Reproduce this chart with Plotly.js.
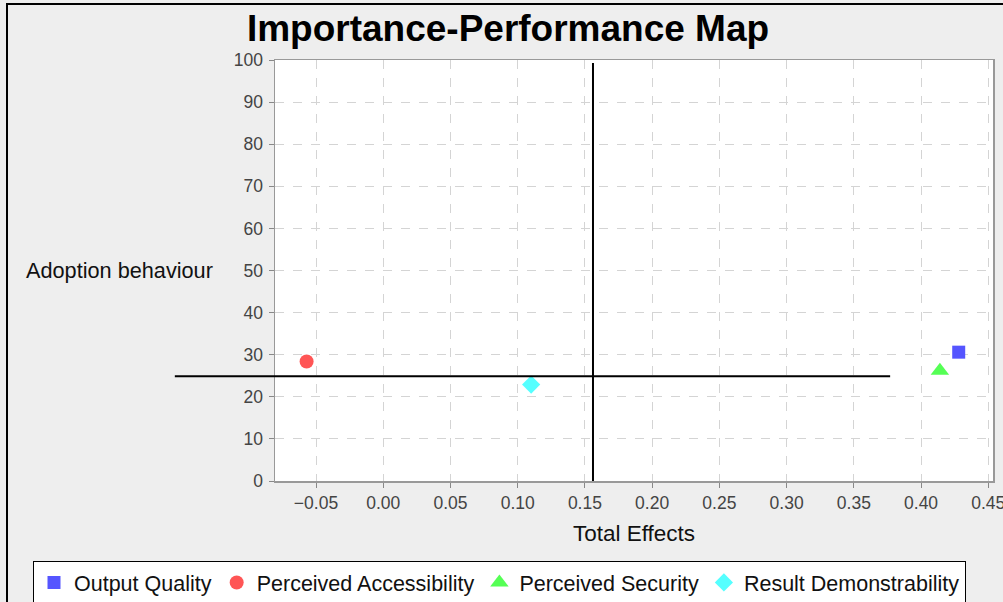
<!DOCTYPE html>
<html>
<head>
<meta charset="utf-8">
<script src="https://cdn.plot.ly/plotly-3.0.1.min.js"></script>
<style>
  html, body { margin: 0; padding: 0; background: #eeeeee; }
  #wrap { position: relative; width: 1003px; height: 602px; overflow: hidden; background: #eeeeee; }
  #chart { position: absolute; left: 0; top: 0; width: 1003px; height: 602px; }
  #bl { position: absolute; left: 6px; top: 3px; width: 2px; height: 599px; background: #000; }
  #bt { position: absolute; left: 6px; top: 3px; width: 997px; height: 2px; background: #000; }
</style>
</head>
<body>
<div id="wrap"><div id="chart"></div><div id="bl"></div><div id="bt"></div></div>
<script>
// ---- data ----
const categories = ['Output Quality', 'Perceived Accessibility', 'Perceived Security', 'Result Demonstrability'];
const totalEffects = [0.428, -0.057, 0.414, 0.110];
const performance = [30.6, 28.4, 26.2, 22.9];
const xTickValues = [-0.05, 0.00, 0.05, 0.10, 0.15, 0.20, 0.25, 0.30, 0.35, 0.40, 0.45];
const yTickValues = [0, 10, 20, 30, 40, 50, 60, 70, 80, 90, 100];
const refLineX = 0.156;          // vertical reference (total effect)
const refLineXSpanY = [0, 99.3]; // its vertical extent
const refLineY = 24.9;           // horizontal reference (performance)
const refLineYSpanX = [-0.155, 0.377]; // its horizontal extent

// ---- styles ----
const colors = ['#5555ff', '#ff5555', '#55ff55', '#55ffff'];
const symbols = ['square', 'circle', 'triangle-up', 'diamond'];
const sizes = [13, 14, 16, 14];
const xRange = [-0.0805, 0.4535];
const yRange = [0, 100];

const traces = categories.map((c, i) => ({
  type: 'scatter', mode: 'markers', name: c,
  x: [totalEffects[i]], y: [performance[i]],
  marker: { color: colors[i], symbol: symbols[i], size: sizes[i], line: { width: 0 } },
  cliponaxis: false
}));

const toPaperX = v => (v - xRange[0]) / (xRange[1] - xRange[0]);

const font = 'Liberation Sans, Arial, sans-serif';
const layout = {
  width: 1003, height: 602,
  paper_bgcolor: '#eeeeee', plot_bgcolor: '#ffffff',
  margin: { l: 275, r: 10, t: 60, b: 121, pad: 0, autoexpand: false },
  title: {
    text: 'Importance-Performance Map',
    font: { family: font, size: 37, color: '#000', weight: 'bold' },
    xref: 'container', x: 508 / 1003, xanchor: 'center',
    yref: 'container', y: 1 - 28 / 602, yanchor: 'middle'
  },
  xaxis: {
    range: xRange, tickvals: xTickValues, tickformat: '.2f',
    ticks: 'outside', ticklen: 5, tickcolor: '#888', tickwidth: 1,
    ticklabeloverflow: 'allow',
    showline: true, linecolor: '#999', linewidth: 1.5, mirror: true,
    showgrid: true, gridcolor: '#d4d4d4', griddash: 'dash', gridwidth: 1,
    zeroline: false,
    tickfont: { family: font, size: 17.5, color: '#444' },
    title: { text: 'Total Effects', font: { family: font, size: 22.5, color: '#111' }, standoff: 13 }
  },
  yaxis: {
    range: yRange, tickvals: yTickValues,
    ticks: 'outside', ticklen: 5, tickcolor: '#888', tickwidth: 1,
    ticklabelstandoff: 2,
    showline: true, linecolor: '#999', linewidth: 1.5, mirror: true,
    showgrid: true, gridcolor: '#d4d4d4', griddash: 'dash', gridwidth: 1,
    zeroline: false,
    tickfont: { family: font, size: 17.5, color: '#444' }
  },
  annotations: [{
    text: 'Adoption behaviour', showarrow: false,
    xref: 'paper', x: 0, xanchor: 'right', xshift: -60,
    yref: 'y', y: 50, yanchor: 'middle',
    font: { family: font, size: 21.7, color: '#111' }
  }],
  shapes: [
    { type: 'line', xref: 'x', yref: 'y', x0: refLineX, x1: refLineX,
      y0: refLineXSpanY[0], y1: refLineXSpanY[1], line: { color: '#000', width: 2 } },
    { type: 'line', xref: 'paper', yref: 'y', x0: toPaperX(refLineYSpanX[0]), x1: toPaperX(refLineYSpanX[1]),
      y0: refLineY, y1: refLineY, line: { color: '#000', width: 2 } }
  ],
  legend: {
    orientation: 'h',
    xref: 'paper', x: (33 - 275) / 718, xanchor: 'left',
    yref: 'paper', y: -(561 - 481) / 421, yanchor: 'top',
    bgcolor: '#ffffff', bordercolor: '#000', borderwidth: 1,
    font: { family: font, size: 21.5, color: '#111' },
    itemwidth: 30, tracegroupgap: 0
  },
  showlegend: true
};

Plotly.newPlot('chart', traces, layout, { staticPlot: true, displayModeBar: false });
</script>
</body>
</html>
